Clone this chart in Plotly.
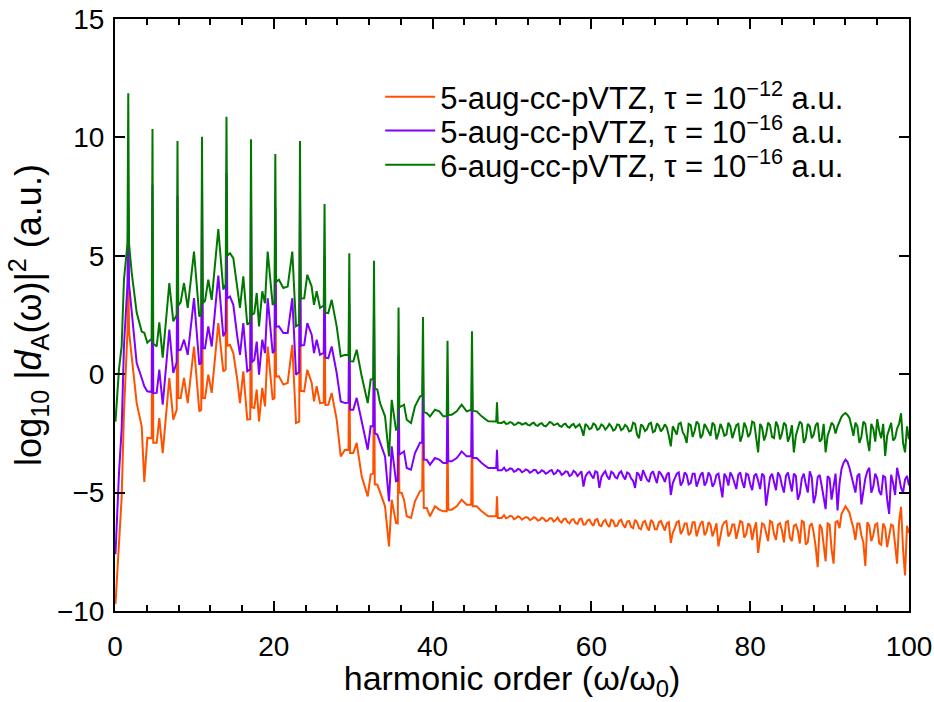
import numpy as np
import plotly.graph_objects as go

# ---- data ----
base_x = [0.06, 0.25, 0.50, 0.84, 1.13, 2.10, 2.73, 3.36, 3.69, 4.07, 5.25, 5.58, 6.01, 6.84, 7.34,
          8.27, 8.69, 9.16, 9.95, 10.62, 11.34, 11.75, 12.18, 13.01, 13.64, 14.48, 14.90, 15.40,
          15.74, 16.16, 16.66, 17.54, 17.85, 18.14, 18.55, 18.89, 19.23, 19.86, 20.65, 21.20,
          21.75, 22.33, 22.80, 23.83, 24.22, 24.77, 25.06, 25.40, 25.82, 26.86, 27.29, 27.92,
          28.43, 28.97, 30.01, 30.44, 31.07, 31.83, 32.20, 33.04, 33.38, 34.01, 34.51, 34.85,
          35.39, 36.11, 36.40, 36.74, 37.28, 37.78, 38.41, 39.26, 39.67, 40.30, 40.84, 41.35,
          42.41, 43.04, 43.66, 44.29, 45.55, 46.18, 47.01, 47.86, 48.70]

green_base = [-2.0, -0.8, 0.2, 1.2, 4.0, 4.3, 2.6, 1.8, 1.75, 1.33, 1.17, 2.19, 0.7, 3.85, 2.23,
              3.03, 3.85, 2.8, 5.18, 2.44, 3.1, 3.99, 3.14, 6.13, 3.57, 5.11, 4.9, 3.57,
              2.8, 4.13, 2.09, 2.58, 3.43, 2.02, 3.5, 3.0, 5.18, 2.93, 3.99, 3.64,
              3.7, 5.18, 2.02, 3.21, 4.2, 3.7, 2.93, 3.5, 2.8, 2.58, 3.14, 2.02,
              0.75, 0.82, 0.54, 1.03, -0.09, -1.22, -0.23, -0.65, -1.22, -1.78, -3.47, -1.08,
              -2.34, -1.36, -1.29, -1.92, -2.06, -1.36, -0.94, -1.64, -1.78, -1.5, -1.57, -1.78,
              -1.71, -1.57, -1.29, -1.57, -1.57, -1.78, -1.99, -1.99, -2.06]

purple_base = [-7.6, -6.0, -4.2, -2.3, 1.2, 2.6, 0.47, -0.16, -0.51, -0.72, -0.79, 0.19, -1.29, 1.88, 0.05,
               1.03, 1.46, 0.82, 3.21, 0.4, 1.1, 2.02, 1.17, 4.16, 1.6, 3.28, 2.93, 1.6,
               0.82, 2.16, 0.12, 0.61, 1.38, -0.02, 1.46, 0.89, 3.21, 0.89, 2.02, 1.74,
               1.74, 3.21, -0.02, 1.24, 2.16, 1.67, 0.89, 1.46, 0.82, 0.68, 1.17, 0.05,
               -1.15, -1.22, -1.5, -1.0, -1.99, -3.19, -2.2, -2.55, -2.9, -3.47, -5.37, -3.05,
               -4.52, -3.33, -3.26, -3.96, -4.03, -3.33, -2.9, -3.61, -3.82, -3.54, -3.61, -3.75,
               -3.68, -3.54, -3.26, -3.47, -3.54, -3.75, -3.96, -3.96, -4.06]

orange_base = [-9.7, -8.5, -7.0, -5.2, -1.6, 0.75, -1.22, -2.2, -4.55, -2.69, -2.9, -1.85, -3.33, -0.16, -1.92,
               -1.0, -0.16, -1.22, 1.17, -1.57, -1.0, -0.02, -0.79, 2.16, 0.12, 1.24, 0.89, -0.23,
               -1.22, 0.12, -1.92, -1.43, -0.65, -1.99, -0.58, -1.36, 1.17, -1.08, -0.09, -0.44,
               -0.37, 1.24, -2.06, -0.72, 0.19, -0.37, -1.15, -0.51, -1.22, -1.29, -0.79, -1.92,
               -3.47, -3.19, -3.33, -2.9, -4.31, -5.16, -4.24, -4.66, -5.01, -5.58, -7.27, -5.3,
               -6.28, -5.01, -5.3, -6.0, -6.07, -5.37, -4.94, -5.65, -6.0, -5.58, -5.72, -5.79,
               -5.72, -5.58, -5.3, -5.51, -5.58, -5.79, -6.0, -6.0, -6.07]

# harmonic peaks: position, top value, and curve value just left/right of the spike
peak_x = [1.67, 4.72, 7.87, 10.96, 14.04, 17.13, 20.19, 23.30, 26.39, 29.51, 32.62, 35.71,
          38.79, 41.88, 44.96, 48.11]
green_peak = [11.86, 10.36, 9.85, 10.03, 10.87, 9.92, 9.30, 9.85, 7.19, 5.11, 4.79, 2.82,
              2.41, 1.41, 1.81, -1.19]
green_left = [5.5, 1.5, 2.5, 2.5, 3.8, 2.2, 3.0, 2.1, 2.9, 0.8, -0.2, -2.3, -0.9, -1.78, -1.5, -2.0]
green_right = [5.5, 1.3, 2.9, 3.0, 5.0, 2.5, 3.9, 3.2, 2.6, 0.55, -0.6, -1.4, -1.6, -1.72, -1.55, -2.05]
purple_peak = [7.2, 8.0, 7.5, 7.8, 8.5, 7.6, 7.0, 7.5, 5.0, 3.0, 2.6, 0.8,
               0.4, -0.6, -0.2, -3.19]
purple_left = [3.8, -0.75, 0.5, 0.5, 1.8, 0.2, 1.0, 0.1, 0.9, -1.2, -2.2, -4.5, -2.9, -3.75, -3.47, -3.96]
purple_right = [3.8, -0.8, 1.0, 1.1, 3.2, 0.5, 2.0, 1.2, 0.7, -1.5, -2.5, -3.4, -3.6, -3.68, -3.54, -4.06]
orange_peak = [5.0, 6.0, 5.5, 5.8, 6.5, 5.6, 5.0, 5.5, 3.0, 1.0, 0.6, -1.2,
               -1.6, -2.6, -2.2, -5.16]
orange_left = [1.8, -2.7, -1.5, -1.5, 0.2, -1.9, -1.0, -2.0, -1.2, -3.2, -4.2, -6.3, -4.9, -5.79, -5.51, -6.0]
orange_right = [1.8, -2.9, -1.0, -1.0, 1.2, -1.4, -0.1, -0.7, -1.3, -3.33, -4.66, -5.0, -5.65, -5.72, -5.58, -6.07]

# noisy plateau (49 ... 100), sampled every 0.5 ("tail") and at the midpoints ("mid")
tail_start, tail_step = 49.0, 0.5
green_tail = [-2.00, -2.08, -2.05, -2.12, -2.06, -2.10, -2.14, -2.08, -2.15, -2.10, -2.17, -2.12,
              -2.05, -2.12, -2.18, -2.12, -2.22, -2.15, -2.25, -2.12, -2.60, -2.18, -2.28, -2.14,
              -2.30, -2.18, -2.25, -2.20, -2.33, -2.15, -2.30, -2.22, -2.38, -2.10, -2.70, -2.20,
              -2.32, -2.05, -2.40, -2.18, -2.30, -2.25, -3.05, -2.35, -2.10, -2.45, -2.90, -2.15,
              -2.40, -2.10, -2.55, -2.25, -2.60, -2.15, -2.50, -2.30, -2.55, -2.20, -2.45, -2.10,
              -2.60, -2.25, -2.50, -2.05, -3.30, -2.25, -2.55, -2.15, -2.70, -2.20, -2.50, -2.15,
              -2.60, -3.30, -2.30, -2.10, -2.70, -2.20, -2.55, -2.05, -2.75, -3.30, -2.35, -2.15,
              -2.20, -1.80, -1.64, -1.85, -2.60, -2.20, -2.65, -2.10, -3.25, -2.30, -1.90, -2.70,
              -3.45, -2.35, -2.80, -2.30, -1.65, -3.30, -2.75]
green_mid = [-2.10, -2.02, -2.14, -2.04, -2.13, -2.06, -2.16, -2.05, -2.18, -2.07,
             -2.20, -2.02, -2.15, -2.08, -2.22, -2.09, -2.26, -2.10, -2.20, -2.30,
             -2.10, -2.32, -2.08, -2.35, -2.12, -2.34, -2.10, -2.38, -2.12, -2.36,
             -2.14, -2.42, -2.05, -2.55, -2.12, -2.40, -2.10, -2.45, -2.08, -2.42,
             -2.12, -2.60, -2.20, -2.55, -2.05, -2.60, -2.10, -2.65, -2.00, -2.70,
             -2.10, -2.45, -2.05, -2.75, -2.10, -2.60, -2.05, -2.70, -2.15, -2.85,
             -2.05, -2.65, -2.00, -2.70, -2.10, -2.80, -2.05, -2.65, -2.00, -2.75,
             -2.05, -2.85, -2.15, -2.60, -2.00, -2.90, -2.10, -2.70, -2.15, -2.85,
             -2.10, -2.60, -2.05, -2.50, -2.00, -1.70, -1.72, -2.20, -2.05, -2.90,
             -2.00, -2.75, -2.10, -2.85, -2.40, -2.10, -2.60, -2.05, -2.70, -2.10,
             -2.90, -2.20]
purple_tail = [-3.95, -4.05, -4.00, -4.08, -4.03, -4.10, -4.06, -4.12, -4.05, -4.15, -4.10, -4.16,
               -4.05, -4.18, -4.10, -4.20, -4.12, -4.25, -4.15, -4.22, -4.75, -4.18, -4.28, -4.10,
               -4.80, -4.20, -4.32, -4.12, -4.35, -4.18, -4.30, -4.15, -4.40, -4.80, -4.25, -4.05,
               -4.45, -4.20, -4.40, -4.10, -4.35, -4.25, -5.10, -4.40, -4.15, -4.55, -4.25, -4.60,
               -4.20, -4.50, -4.15, -4.55, -4.30, -4.60, -4.20, -5.20, -4.35, -4.15, -4.60, -4.25,
               -4.55, -4.20, -4.65, -4.30, -4.50, -4.20, -5.55, -4.35, -4.60, -4.15, -4.70, -4.30,
               -4.55, -4.20, -5.30, -4.40, -4.65, -4.10, -5.45, -4.35, -4.70, -5.70, -4.40, -4.75,
               -5.75, -4.00, -3.61, -3.95, -4.60, -4.30, -5.50, -4.40, -3.95, -4.75, -4.40, -5.10,
               -4.35, -5.90, -4.60, -3.95, -4.80, -4.45, -4.70]
purple_mid = [-4.08, -3.98, -4.12, -4.00, -4.14, -4.02, -4.16, -4.04, -4.18, -4.06,
              -4.20, -4.08, -4.22, -4.05, -4.25, -4.10, -4.30, -4.08, -4.30, -4.10,
              -4.32, -4.12, -4.40, -4.15, -4.35, -4.10, -4.45, -4.18, -4.40, -4.10,
              -4.45, -4.20, -4.50, -4.15, -4.50, -4.25, -4.55, -4.10, -4.60, -4.20,
              -4.55, -4.15, -4.60, -4.20, -4.70, -4.15, -4.65, -4.20, -4.75, -4.25,
              -4.70, -4.15, -4.75, -4.25, -4.80, -4.20, -4.70, -4.30, -4.85, -4.15,
              -4.80, -4.25, -4.90, -4.20, -4.85, -4.30, -4.95, -4.20, -4.90, -4.30,
              -5.00, -4.15, -4.95, -4.30, -5.05, -4.20, -5.00, -4.35, -5.10, -4.25,
              -5.20, -4.30, -5.30, -4.20, -4.60, -3.75, -3.70, -4.30, -5.00, -4.20,
              -4.95, -4.10, -5.00, -4.20, -4.95, -4.30, -5.30, -4.25, -5.10, -4.35,
              -5.00, -4.30]
orange_tail = [-5.95, -6.05, -6.00, -6.08, -6.04, -6.10, -6.06, -6.12, -6.08, -6.15, -6.10, -6.18,
               -6.08, -6.16, -6.20, -6.12, -6.24, -6.15, -6.28, -6.12, -6.35, -6.18, -6.30, -6.15,
               -6.38, -6.22, -6.35, -6.15, -6.42, -6.20, -6.36, -6.22, -6.45, -6.15, -6.50, -6.25,
               -6.45, -6.15, -6.55, -6.25, -6.40, -6.30, -7.12, -6.50, -6.20, -6.60, -6.30, -6.70,
               -6.25, -6.55, -6.20, -6.65, -6.35, -6.60, -7.27, -6.40, -6.20, -6.70, -6.35, -6.60,
               -6.25, -6.75, -6.40, -6.55, -7.55, -6.30, -6.70, -6.20, -6.75, -6.35, -6.60, -6.25,
               -6.90, -6.40, -6.60, -6.20, -7.20, -6.40, -6.70, -8.15, -6.50, -7.90, -6.35, -8.00,
               -6.20, -5.90, -5.58, -5.85, -6.50, -6.30, -6.80, -8.10, -6.40, -6.80, -6.30, -7.20,
               -6.50, -6.85, -6.40, -8.00, -5.60, -8.50, -6.70]
orange_mid = [-6.08, -5.98, -6.12, -6.00, -6.14, -6.03, -6.16, -6.04, -6.18, -6.06,
              -6.20, -6.08, -6.22, -6.05, -6.26, -6.10, -6.30, -6.12, -6.32, -6.10,
              -6.34, -6.14, -6.40, -6.12, -6.42, -6.15, -6.45, -6.20, -6.40, -6.15,
              -6.48, -6.20, -6.50, -6.25, -6.55, -6.20, -6.60, -6.25, -6.55, -6.20,
              -6.60, -6.25, -6.70, -6.25, -6.75, -6.30, -6.80, -6.25, -6.85, -6.30,
              -6.80, -6.25, -6.85, -6.30, -6.90, -6.25, -6.85, -6.35, -6.95, -6.20,
              -6.90, -6.30, -7.00, -6.25, -6.95, -6.35, -7.05, -6.25, -7.00, -6.30,
              -7.10, -6.20, -7.05, -6.35, -7.15, -6.25, -7.10, -6.30, -7.30, -6.35,
              -7.20, -6.30, -7.40, -6.25, -6.50, -5.75, -5.70, -6.20, -7.00, -6.30,
              -7.10, -6.25, -7.05, -6.35, -7.15, -6.30, -7.30, -6.35, -7.10, -6.25,
              -7.40, -6.40]

names = ["5-aug-cc-pVTZ, τ = 10<sup>−12</sup> a.u.",
         "5-aug-cc-pVTZ, τ = 10<sup>−16</sup> a.u.",
         "6-aug-cc-pVTZ, τ = 10<sup>−16</sup> a.u."]
colors = ["#ff5200", "#8000ff", "#007800"]

SPIKE_HALF_WIDTH = 0.1  # half width of the narrow harmonic spikes


def build(base_y, peak_y, left_y, right_y, tail_y, mid_y):
    tx = [tail_start + tail_step * i for i in range(len(tail_y))]
    mx = [tail_start + tail_step * (i + 0.5) for i in range(len(mid_y))]
    lx = [p - SPIKE_HALF_WIDTH for p in peak_x]
    rx = [p + SPIKE_HALF_WIDTH for p in peak_x]
    xs = list(base_x) + lx + list(peak_x) + rx + tx + mx
    ys = (list(base_y) + list(left_y) + list(peak_y) + list(right_y)
          + list(tail_y) + list(mid_y))
    order = np.argsort(xs, kind="stable")
    return [xs[i] for i in order], [ys[i] for i in order]


series = [(orange_base, orange_peak, orange_left, orange_right, orange_tail, orange_mid),
          (purple_base, purple_peak, purple_left, purple_right, purple_tail, purple_mid),
          (green_base, green_peak, green_left, green_right, green_tail, green_mid)]
legend_ids = ["legend", "legend2", "legend3"]
legend_rows = [0.868, 0.811, 0.753]

font_family = "Liberation Sans, Arial, Helvetica, sans-serif"

fig = go.Figure()
for s, nm, c, lg in zip(series, names, colors, legend_ids):
    x, y = build(*s)
    fig.add_trace(go.Scatter(x=x, y=y, mode="lines", name=nm, legend=lg,
                             line=dict(color=c, width=2)))

legend_style = dict(x=0.334, xanchor="left", yanchor="middle",
                    font=dict(size=31, family=font_family), itemwidth=50,
                    bgcolor="rgba(0,0,0,0)")
fig.update_layout(
    width=934, height=702,
    margin=dict(l=115, r=25, t=19, b=91),
    paper_bgcolor="white", plot_bgcolor="white",
    font=dict(family=font_family, color="black"),
    showlegend=True,
    legend=dict(y=legend_rows[0], **legend_style),
    legend2=dict(y=legend_rows[1], **legend_style),
    legend3=dict(y=legend_rows[2], **legend_style),
)
fig.update_xaxes(
    range=[0, 100], tick0=0, dtick=20, showgrid=False, zeroline=False,
    showline=True, linecolor="black", linewidth=2, mirror="ticks",
    ticks="inside", ticklen=10, tickwidth=2, tickcolor="black",
    minor=dict(dtick=4, ticks="inside", ticklen=6, tickwidth=1.5, tickcolor="black"),
    tickfont=dict(size=28), ticklabelstandoff=9, automargin=False,
    ticklabeloverflow="allow",
    title=dict(text="harmonic order (ω/ω<sub>0</sub>)", font=dict(size=34), standoff=17),
)
fig.update_yaxes(
    range=[-10, 15], tick0=-10, dtick=5, showgrid=False, zeroline=False,
    showline=True, linecolor="black", linewidth=2, mirror="ticks",
    ticks="inside", ticklen=10, tickwidth=2, tickcolor="black",
    tickfont=dict(size=28), ticklabelstandoff=3, automargin=False,
    ticklabeloverflow="allow",
    title=dict(text="log<sub>10</sub> |<i>d</i><sub>A</sub>(ω)|<sup>2</sup> (a.u.)",
               font=dict(size=36), standoff=4),
)

fig.write_html("out.html", config={"displayModeBar": False},
               post_script="document.body.style.margin = '0px';")
